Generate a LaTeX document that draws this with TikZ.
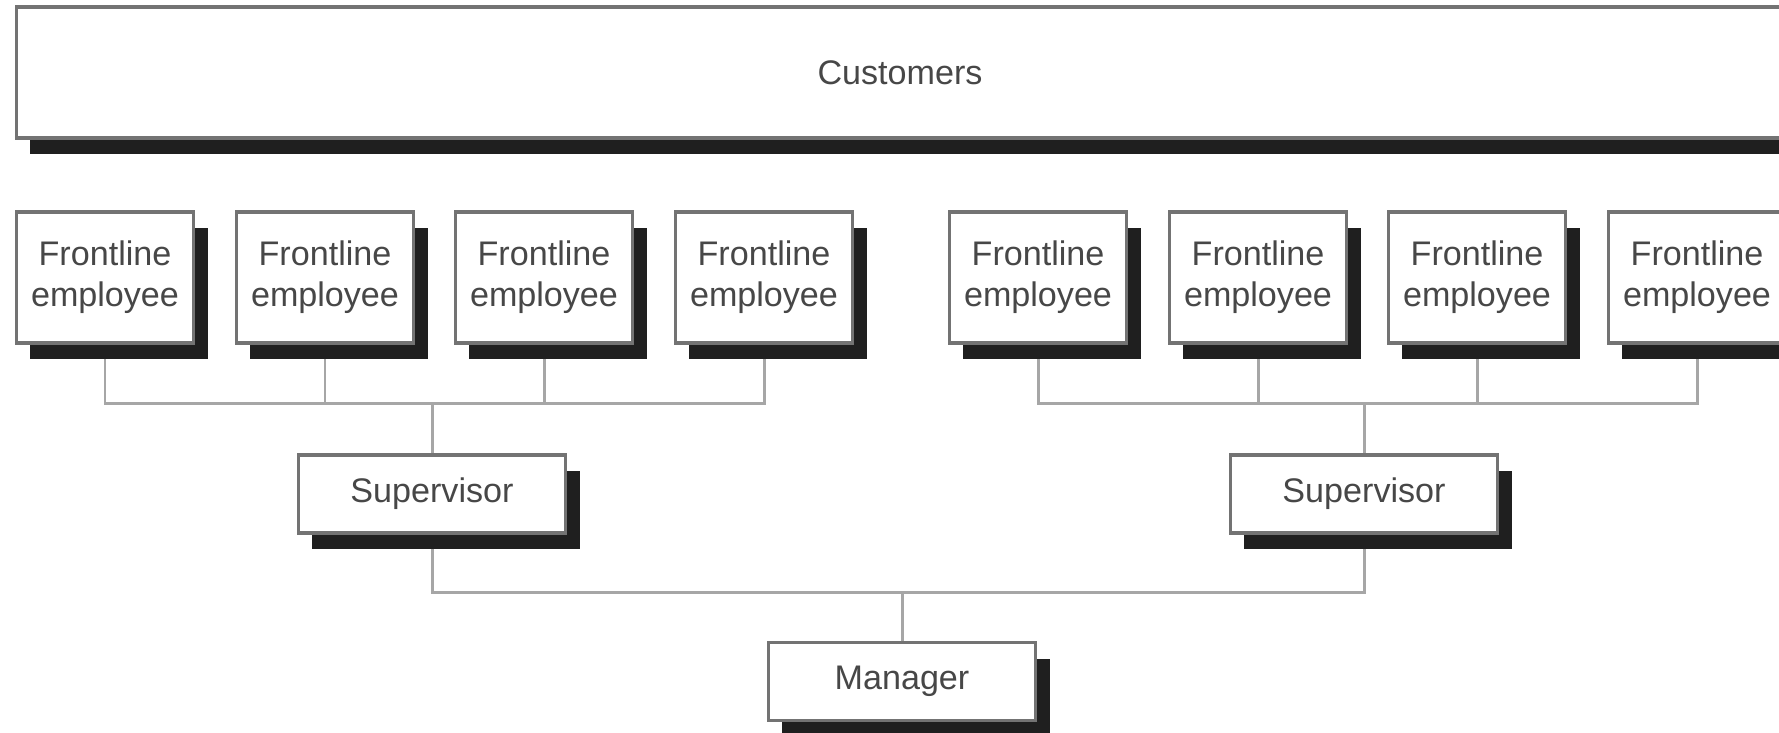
\documentclass[tikz,border=0pt]{standalone}
\usepackage{fontspec}
\setmainfont{Liberation Sans}
\usepackage{tikz}
\usetikzlibrary{shadows}
\usetikzlibrary{backgrounds}

\begin{document}
\begin{tikzpicture}[x=0.01cm, y=-0.01cm,
    box/.style={draw=black!55, line width=0.9pt, fill=white, inner sep=0pt, align=center,
      text=black!72, font=\fontsize{9.7}{11.7}\selectfont,
      drop shadow={shadow xshift=0.14cm, shadow yshift=-0.16cm, fill=black!88, opacity=1}},
    emp/.style={box, minimum width=1.77cm, minimum height=1.31cm},
    boss/.style={box, minimum width=2.67cm, minimum height=0.78cm},
    link/.style={draw=black!35, line width=0.85pt}]
      \useasboundingbox (0, 0) rectangle (1779, 732);
      \clip (0, 0) rectangle (1779, 732);
      \node[box, minimum width=17.66cm, minimum height=1.31cm] (cust) at (900, 72.5){Customers};

      \node[emp] (1) at (105, 277.5){Frontline\\employee};
      \node[emp] (2) at (325, 277.5){Frontline\\employee};
      \node[emp] (3) at (544, 277.5){Frontline\\employee};
      \node[emp] (4) at (764, 277.5){Frontline\\employee};
      \node[emp] (5) at (1038, 277.5){Frontline\\employee};
      \node[emp] (6) at (1258, 277.5){Frontline\\employee};
      \node[emp] (7) at (1477, 277.5){Frontline\\employee};
      \node[emp] (8) at (1697, 277.5){Frontline\\employee};

      \node[boss] (sup1) at (432, 494){Supervisor};
      \node[boss] (sup2) at (1364, 494){Supervisor};
      \node[boss] (man) at (902, 681.5){Manager};

      \coordinate (b1) at (432, 403);
      \coordinate (b2) at (1364, 403);
      \coordinate (b3) at (902, 592);

      \begin{scope}[on background layer]
      \draw[link] (1) |- (b1) -| (4);
      \draw[link] (2) -- (2 |- b1);
      \draw[link] (3) -- (3 |- b1);
      \draw[link] (b1) -- (sup1);
      \draw[link] (5) |- (b2) -| (8);
      \draw[link] (6) -- (6 |- b2);
      \draw[link] (7) -- (7 |- b2);
      \draw[link] (b2) -- (sup2);
      \draw[link] (sup1) |- (b3) -| (sup2);
      \draw[link] (b3) -- (man);
      \end{scope}
    \end{tikzpicture}
\end{document}
